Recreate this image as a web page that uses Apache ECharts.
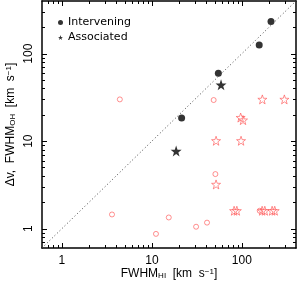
<!DOCTYPE html>
<html>
<head>
<meta charset="utf-8">
<script src="https://cdn.jsdelivr.net/npm/echarts@6/dist/echarts.min.js"></script>
<style>html,body{margin:0;padding:0;background:#fff}#c{width:298px;height:284px}</style>
</head>
<body>
<div id="c"></div>
<script>
// ---- data ----
const majorTicks = [1, 10, 100];
const minorTicks = [0.7, 0.8, 0.9, 2, 3, 4, 5, 6, 7, 8, 9, 20, 30, 40, 50, 60, 70, 80, 90, 200, 300];
const axisMin = 0.6, axisMax = 400;
const intervening = [[21.4, 18.4], [54.8, 59.7], [156, 126], [211, 233]];
const associated = [[18.6, 7.7], [58.7, 44]];
const redCircles = [[4.4, 30], [48.6, 29.5], [50.8, 4.2], [3.6, 1.45], [11.1, 0.87], [15.4, 1.34], [31, 1.05], [41, 1.17], [158, 1.6]];
const redStars = [[169, 30], [297, 30], [97, 18.6], [103, 17.4], [51.7, 10.1], [98, 10.1], [51.7, 3.2], [82, 1.6], [88, 1.6], [168, 1.6], [180, 1.6], [217, 1.6], [232, 1.6]];
const oneToOne = [[0.6, 0.6], [400, 400]];

const FONT = 'Liberation Sans';
const STAR = 'path://M0,-10 L2.35,-3.24 L9.51,-3.09 L3.8,1.24 L5.88,8.09 L0,4 L-5.88,8.09 L-3.8,1.24 L-9.51,-3.09 L-2.35,-3.24 Z';
const rich = {
  n: {fontSize: 12, lineHeight: 12, fontFamily: FONT, color: '#000'},
  sub: {fontSize: 8, lineHeight: 8, padding: [8, 0, 0, 0], verticalAlign: 'bottom', fontFamily: FONT, color: '#000'},
  sup: {fontSize: 8, lineHeight: 8, padding: [0, 0, 8, 0], verticalAlign: 'top', fontFamily: FONT, color: '#000'}
};

function baseAxis(pos, extra) {
  return Object.assign({
    type: 'log', logBase: 10, min: axisMin, max: axisMax, position: pos,
    splitLine: {show: false},
    axisLine: {show: true, lineStyle: {color: '#000', width: 1.5}},
    axisTick: {show: false},
    axisLabel: {show: false}
  }, extra || {});
}

const xAxes = [
  baseAxis('bottom', {
    axisLabel: {show: true, customValues: majorTicks, fontSize: 12, fontFamily: FONT, color: '#000', margin: 7},
    name: '{n|FWHM}{sub|HI}{n|  [km  s}{sup|−1}{n|]}',
    nameLocation: 'middle', nameGap: 20, nameMoveOverlap: false,
    nameTextStyle: {rich: rich}
  }),
  baseAxis('top')
];
const yAxes = [
  baseAxis('left', {
    axisLabel: {show: true, customValues: majorTicks, fontSize: 12, fontFamily: FONT, color: '#000', margin: 7, rotate: 90},
    name: '{n|Δv,  FWHM}{sub|OH}{n|  [km  s}{sup|−1}{n|]}',
    nameLocation: 'middle', nameGap: 25, nameMoveOverlap: false,
    nameTextStyle: {rich: rich}
  }),
  baseAxis('right')
];

const chart = echarts.init(document.getElementById('c'), null, {renderer: 'canvas'});
chart.setOption({
  animation: false,
  backgroundColor: '#fff',
  grid: {left: 42, right: 2, top: 1, bottom: 36, containLabel: false, outerBoundsMode: 'none'},
  xAxis: xAxes,
  yAxis: yAxes,
  legend: {
    orient: 'vertical', left: 53, top: 12, itemWidth: 5, itemHeight: 5, itemGap: 4,
    data: [{name: 'Intervening', icon: 'circle'}, {name: 'Associated', icon: STAR}],
    textStyle: {fontSize: 11, fontFamily: 'DejaVu Sans', color: '#000'}
  },
  series: [
    {type: 'line', name: 'one-to-one', data: oneToOne, symbol: 'none', silent: true,
     lineStyle: {color: '#444', width: 1, type: [1, 2.5]}},
    {type: 'scatter', name: 'red circles', data: redCircles, symbol: 'circle', symbolSize: 5,
     itemStyle: {color: '#fff', borderColor: '#ff5050', borderWidth: 0.8}},
    {type: 'scatter', name: 'red stars', data: redStars, symbol: STAR, symbolSize: 9,
     itemStyle: {color: 'rgba(255,255,255,0)', borderColor: '#ff5050', borderWidth: 0.8}},
    {type: 'scatter', name: 'Intervening', data: intervening, symbol: 'circle', symbolSize: 7,
     itemStyle: {color: '#000'}},
    {type: 'scatter', name: 'Associated', data: associated, symbol: STAR, symbolSize: 11,
     itemStyle: {color: '#000'}}
  ]
});

// inside tick marks on all four sides, positioned through the axes' own scales
const xLo = chart.convertToPixel({xAxisIndex: 0}, axisMin);
const xHi = chart.convertToPixel({xAxisIndex: 0}, axisMax);
const yLo = chart.convertToPixel({yAxisIndex: 0}, axisMin);
const yHi = chart.convertToPixel({yAxisIndex: 0}, axisMax);
const tickEls = [];
function addTicks(values, len) {
  values.forEach(v => {
    const x = Math.round(chart.convertToPixel({xAxisIndex: 0}, v)) + 0.5;
    const y = Math.round(chart.convertToPixel({yAxisIndex: 0}, v)) + 0.5;
    const st = {stroke: '#000', lineWidth: 1};
    tickEls.push(
      {type: 'line', silent: true, z: 50, shape: {x1: x, y1: yLo, x2: x, y2: yLo - len}, style: st},
      {type: 'line', silent: true, z: 50, shape: {x1: x, y1: yHi, x2: x, y2: yHi + len}, style: st},
      {type: 'line', silent: true, z: 50, shape: {x1: xLo, y1: y, x2: xLo + len, y2: y}, style: st},
      {type: 'line', silent: true, z: 50, shape: {x1: xHi, y1: y, x2: xHi - len, y2: y}, style: st}
    );
  });
}
addTicks(majorTicks, 5);
addTicks(minorTicks, 3);
chart.setOption({graphic: {elements: tickEls}});
</script>
</body>
</html>
